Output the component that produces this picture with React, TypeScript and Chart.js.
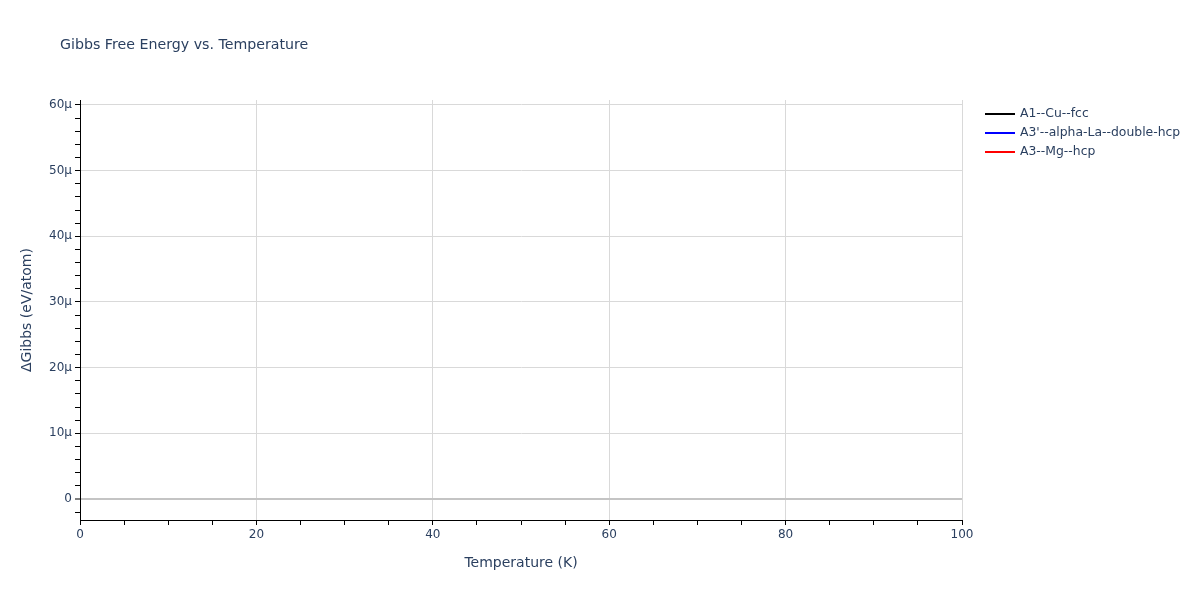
import React, { useEffect, useRef } from "react";
import { Chart, registerables, Plugin } from "chart.js";

Chart.register(...registerables);

// Series (nothing is plotted in the reference, only the legend entries show)
const seriesNames = ["A1--Cu--fcc", "A3'--alpha-La--double-hcp", "A3--Mg--hcp"];
const seriesColors = ["black", "blue", "red"];
const temperatures: number[] = [];
const gibbsCu: number[] = [];
const gibbsLa: number[] = [];
const gibbsMg: number[] = [];

// Axis ranges (eV/atom for y)
const xMin = 0;
const xMax = 100;
const yMin = -3.2e-6;
const yMax = 60.75e-6;

const TEXT = "#2a3f5f";
const GRID = "#d9d9d9";
const ZERO = "#c4c4c4";
const FONT = "'DejaVu Sans', Verdana, sans-serif";

// title + legend drawn plotly-style outside the plot area
const overlayPlugin: Plugin = {
  id: "overlay",
  afterDraw(chart) {
    const ctx = chart.ctx;
    ctx.save();
    ctx.fillStyle = TEXT;
    ctx.textBaseline = "middle";
    ctx.textAlign = "left";
    ctx.font = `14.2px ${FONT}`;
    ctx.fillText("Gibbs Free Energy vs. Temperature", 60, 45);

    ctx.font = `12.4px ${FONT}`;
    chart.data.datasets.forEach((ds, i) => {
      const y = 114 + i * 19;
      ctx.strokeStyle = ds.borderColor as string;
      ctx.lineWidth = 2;
      ctx.beginPath();
      ctx.moveTo(985, y);
      ctx.lineTo(1015, y);
      ctx.stroke();
      ctx.fillStyle = TEXT;
      ctx.fillText(ds.label as string, 1020, y);
    });
    ctx.restore();
  },
};

const toPoints = (ys: number[]) => ys.map((y, i) => ({ x: temperatures[i], y }));

const App: React.FC = () => {
  const canvasRef = useRef<HTMLCanvasElement | null>(null);

  useEffect(() => {
    document.body.style.margin = "0";
    if (!canvasRef.current) return;
    const allSeries = [gibbsCu, gibbsLa, gibbsMg];

    const chart = new Chart(canvasRef.current, {
      type: "line",
      data: {
        datasets: allSeries.map((ys, i) => ({
          label: seriesNames[i],
          data: toPoints(ys),
          borderColor: seriesColors[i],
          backgroundColor: seriesColors[i],
          borderWidth: 2,
          pointRadius: 0,
          fill: false,
        })),
      },
      options: {
        responsive: false,
        animation: false,
        layout: { padding: { left: 0, top: 100, right: 238, bottom: 0 } },
        plugins: {
          legend: { display: false },
          title: { display: false },
          tooltip: { enabled: false },
        },
        scales: {
          x: {
            type: "linear",
            min: xMin,
            max: xMax,
            afterFit: (scale: any) => {
              scale.height = 80;
            },
            afterBuildTicks: (scale: any) => {
              const t = [];
              for (let v = 0; v <= 100; v += 5) t.push({ value: v });
              scale.ticks = t;
            },
            border: { display: true, color: "black", width: 1 },
            grid: {
              color: (c: any) =>
                c.tick && c.tick.value % 20 === 0 ? GRID : "rgba(0,0,0,0)",
              lineWidth: 1,
              tickColor: "black",
              tickWidth: 1,
              tickLength: 5,
            },
            ticks: {
              autoSkip: false,
              maxRotation: 0,
              padding: 3,
              color: TEXT,
              font: { family: FONT, size: 12 },
              callback: (v: any) => (Number(v) % 20 === 0 ? String(v) : ""),
            },
            title: {
              display: true,
              text: "Temperature (K)",
              color: TEXT,
              font: { family: FONT, size: 14 },
              padding: { top: 0, bottom: 28 },
            },
          },
          y: {
            type: "linear",
            min: yMin,
            max: yMax,
            afterFit: (scale: any) => {
              scale.width = 80;
            },
            afterBuildTicks: (scale: any) => {
              const t = [];
              for (let u = -2; u <= 60; u += 2) t.push({ value: u * 1e-6 });
              scale.ticks = t;
            },
            border: { display: true, color: "black", width: 1 },
            grid: {
              color: (c: any) => {
                const u = Math.round((c.tick ? c.tick.value : 1) * 1e6);
                if (u === 0) return ZERO;
                return u % 10 === 0 ? GRID : "rgba(0,0,0,0)";
              },
              lineWidth: (c: any) =>
                c.tick && Math.round(c.tick.value * 1e6) === 0 ? 2 : 1,
              tickColor: "black",
              tickWidth: 1,
              tickLength: 5,
            },
            ticks: {
              autoSkip: false,
              padding: 3,
              color: TEXT,
              font: { family: FONT, size: 12 },
              callback: (v: any) => {
                const u = Math.round(Number(v) * 1e6);
                if (u % 10 !== 0) return "";
                return u === 0 ? "0" : `${u}µ`;
              },
            },
            title: {
              display: true,
              text: "ΔGibbs (eV/atom)",
              color: TEXT,
              font: { family: FONT, size: 14 },
              padding: { top: 18.6, bottom: 0 },
            },
          },
        },
      },
      plugins: [overlayPlugin],
    });

    return () => {
      chart.destroy();
    };
  }, []);

  return (
    <div style={{ position: "absolute", left: 0, top: 0, width: 1200, height: 600, background: "white" }}>
      <canvas ref={canvasRef} width={1200} height={600} />
    </div>
  );
};

export default App;
